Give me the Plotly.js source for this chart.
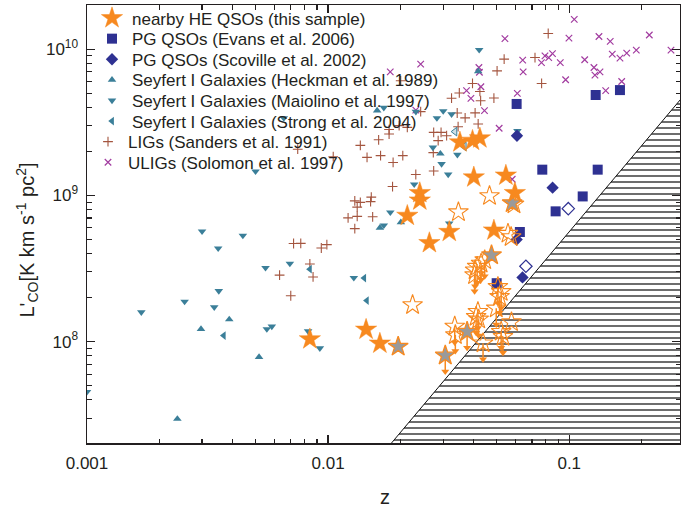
<!DOCTYPE html>
<html><head><meta charset="utf-8">
<script src="https://cdn.plot.ly/plotly-3.0.1.min.js"></script>
<style>html,body{margin:0;padding:0;background:#fff}#chart{width:681px;height:508px}</style>
</head><body><div id="chart"></div>
<script>
// ---------- data ----------
// nearby HE QSOs (this sample): detections (filled orange stars)
const heZ = [0.0352,0.0397,0.0426,0.0402,0.0546,0.0595,0.0240,0.0240,0.0213,0.0318,0.0487,0.0263,0.0084,0.01437,0.01639];
const heL = [2.31e9,2.37e9,2.46e9,1.33e9,1.37e9,1.04e9,1.04e9,9.25e8,7.27e8,5.64e8,5.77e8,4.73e8,1.04e8,1.21e8,9.72e7];
// HE QSOs shown with grey filled stars
const heGreyZ = [0.0580,0.0476,0.01952,0.0377,0.0306];
const heGreyL = [8.86e8,3.90e8,9.25e7,1.17e8,8.05e7];
const heGreyLimit = [false,false,false,true,true];
// HE QSOs open stars (no arrow)
const heOpenZ = [0.0467,0.0347,0.0557,0.0574,0.0224,0.0576,0.0590];
const heOpenL = [9.92e8,7.69e8,5.48e8,5.20e8,1.78e8,1.36e8,8.68e8];
// HE QSOs upper limits (open stars with arrows)
const heUlZ = [0.0446,0.0431,0.0415,0.0407,0.0405,0.0506,0.0522,0.0514,0.0498,0.0418,0.0411,0.0421,0.0522,0.0531,0.0335,0.0337,0.0439];
const heUlL = [3.61e8,3.42e8,3.26e8,3.08e8,2.85e8,2.37e8,2.19e8,2.03e8,1.69e8,1.60e8,1.48e8,1.42e8,1.17e8,1.08e8,1.27e8,1.11e8,9.75e7];

// PG QSOs (Evans et al. 2006)
const evansZ = [0.0605,0.1287,0.1623,0.0773,0.1312,0.1137,0.0878,0.0624,0.0500];
const evansL = [4.22e9,4.86e9,5.25e9,1.50e9,1.50e9,9.84e8,7.78e8,5.62e8,2.51e8];
// PG QSOs (Scoville et al. 2002)
const scovZ = [0.0607,0.0853,0.0605,0.0640];
const scovL = [2.56e9,1.13e9,4.99e8,2.75e8];
const scovOpenZ = [0.0991,0.0661];
const scovOpenL = [8.12e8,3.28e8];

// Seyfert I (Heckman et al. 1989)
const heckZ = [0.01597,0.01639,0.02003,0.02921,0.04193,0.00297,0.00389,0.00517,0.00237];
const heckL = [3.80e9,6.00e8,6.55e8,1.93e9,7.06e9,1.22e8,1.42e8,7.84e7,2.96e7];
// Seyfert I (Maiolino et al. 1997)
const maioZ = [0.0050,0.0030,0.00443,0.0035,0.0055,0.00352,0.00254,0.00168,0.00337,0.00557,0.00584,0.0010,0.00826,0.00924,0.00694,0.00655,
               0.01811,0.01702,0.01278,0.03148,0.02275,0.03178,0.04232,0.03001,0.02825,0.03251,0.0272,0.02954,0.03436,0.06097,0.01702,0.02312];
const maioL = [1.46e9,5.68e8,5.31e8,4.35e8,3.20e8,2.22e8,1.88e8,1.59e8,1.72e8,1.22e8,1.27e8,4.54e7,1.18e8,9.02e7,3.42e8,3.38e9,
               7.66e8,6.25e8,2.73e8,1.39e9,1.19e9,6.44e8,9.89e9,3.77e9,3.38e9,3.59e9,2.13e9,1.64e9,1.90e9,2.76e9,3.98e9,3.74e9];
// Seyfert I (Strong et al. 2004)
const strongZ = [0.00369,0.0084,0.01411,0.01447];
const strongL = [1.10e8,3.13e8,2.72e8,1.91e8];
const strongOpenZ = [0.03356,0.03667];
const strongOpenL = [2.73e9,2.16e9];

// LIGs (Sanders et al. 1991)
const ligZ = [0.0818,0.0537,0.0721,0.0502,0.0768,0.0397,0.0426,0.0487,0.0350,0.0325,0.0429,0.0407,0.0370,0.0200,0.0242,0.0179,0.0179,0.0162,0.0136,
              0.0274,0.0294,0.0310,0.0346,0.0204,0.0165,0.0186,0.0145,0.0273,0.0274,0.0231,0.0185,0.0129,0.0136,0.0151,0.0150,0.0132,0.0121,0.0132,
              0.0153,0.0129,0.00719,0.0077,0.00937,0.00988,0.0084,0.00629,0.00866,0.0070,0.00748,0.0105,0.0197,0.0213,0.0286,0.0419,0.0343];
const ligL = [1.28e10,8.55e9,8.76e9,7.11e9,5.83e9,5.83e9,5.14e9,4.63e9,5.02e9,4.62e9,4.44e9,3.67e9,3.39e9,6.08e9,3.74e9,2.82e9,2.63e9,2.40e9,2.20e9,
              2.70e9,2.70e9,2.56e9,2.95e9,1.87e9,1.87e9,1.68e9,1.82e9,1.96e9,1.47e9,1.39e9,1.15e9,9.17e8,8.96e8,9.74e8,9.07e8,8.32e8,7.02e8,7.19e8,
              7.14e8,5.93e8,4.69e8,4.70e8,4.37e8,4.61e8,3.40e8,2.85e8,2.77e8,2.06e8,2.07e9,1.84e9,3.00e9,2.92e9,2.37e9,3.08e9,3.66e9];

// ULIGs (Solomon et al. 1997)
const uligZ = [0.1049,0.0997,0.1328,0.1479,0.2148,0.2642,0.1508,0.1623,0.1731,0.1897,0.1159,0.0918,0.1266,0.1341,0.1278,0.0966,0.1650,0.1416,
               0.0541,0.0641,0.0644,0.0793,0.0767,0.0822,0.0852,0.0422,0.0424,0.0242,0.0375,0.0430,0.0391,0.0609,0.0445,0.0512,0.0181,0.0231,0.0580];
const uligL = [1.60e10,1.19e10,1.22e10,1.13e10,1.25e10,9.84e9,9.25e9,8.69e9,9.39e9,9.84e9,8.46e9,8.10e9,7.49e9,7.00e9,6.65e9,6.18e9,6.01e9,5.20e9,
               1.18e10,8.41e9,7.00e9,9.00e9,8.10e9,8.76e9,9.33e9,7.49e9,6.95e9,7.90e9,5.20e9,5.53e9,4.61e9,4.98e9,3.80e9,2.88e9,7.00e9,3.83e9,1.29e9];

// sensitivity limit (hatched region): L'CO = limitL0 * (z/limitZ0)^limitSlope
const limitZ0 = 0.01833, limitL0 = 2.03e7, limitSlope = 1.96;

// tick labels
const xTickVals = [0.001, 0.01, 0.1];
const xTickText = ['0.001', '0.01', '0.1'];
const yTickVals = [1e8, 1e9, 1e10];
const yTickText = ['10<sup>8</sup>', '10<sup>9</sup>', '10<sup>10</sup>'];

// ---------- styles ----------
const ORANGE = '#f7891f', NAVY = '#2e3192', TEAL = '#3b7f99', BROWN = '#a4553f', PURPLE = '#a23ca0', GREY = '#9a9a9a', INK = '#231f20';
const FONT = 'Liberation Sans, Arial, Helvetica, sans-serif';
const arrowFactor = Math.pow(10, -0.11);

function minorTicks(lo, hi) {
  const out = [];
  for (let e = lo; e <= hi; e++) for (let d = 2; d <= 9; d++) out.push(d * Math.pow(10, e));
  return out;
}

// hatched region polygon from the limit relation
const hz = [], hl = [];
const zEnd = 0.4;
const zStart = limitZ0 * 0.8;
for (let i = 0; i <= 40; i++) {
  const z = zStart * Math.pow(zEnd / zStart, i / 40);
  hz.push(z); hl.push(limitL0 * Math.pow(z / limitZ0, limitSlope));
}
hz.push(zEnd, zStart, zStart); hl.push(1e7, 1e7, hl[0]);

// upper limit arrows
const arrZ = heUlZ.concat(heGreyZ.filter((_, i) => heGreyLimit[i]));
const arrL = heUlL.concat(heGreyL.filter((_, i) => heGreyLimit[i]));

const traces = [
  { x: hz, y: hl, mode: 'lines', fill: 'toself', fillcolor: 'white',
    fillpattern: { shape: '-', size: 6, solidity: 0.22, fgcolor: '#222', bgcolor: 'white', fillmode: 'replace' },
    line: { color: '#111', width: 1 }, showlegend: false, hoverinfo: 'skip' },
  { x: ligZ, y: ligL, mode: 'markers', name: 'LIGs (Sanders et al. 1991)', legend: 'legend7',
    marker: { symbol: 'cross-thin', size: 7, line: { color: BROWN, width: 1.1 }, color: BROWN } },
  { x: uligZ, y: uligL, mode: 'markers', name: 'ULIGs (Solomon et al. 1997)', legend: 'legend8',
    marker: { symbol: 'x-thin', size: 6.5, line: { color: PURPLE, width: 1.2 }, color: PURPLE } },
  { x: heckZ, y: heckL, mode: 'markers', name: 'Seyfert I Galaxies (Heckman et al. 1989)', legend: 'legend4',
    marker: { symbol: 'triangle-up', size: 7.5, color: TEAL } },
  { x: maioZ, y: maioL, mode: 'markers', name: 'Seyfert I Galaxies (Maiolino et al. 1997)', legend: 'legend5',
    marker: { symbol: 'triangle-down', size: 7.5, color: TEAL } },
  { x: strongZ, y: strongL, mode: 'markers', name: 'Seyfert I Galaxies (Strong et al. 2004)', legend: 'legend6',
    marker: { symbol: 'triangle-left', size: 7.5, color: TEAL } },
  { x: strongOpenZ, y: strongOpenL, mode: 'markers', showlegend: false,
    marker: { symbol: 'triangle-left', size: 7.5, color: '#cfe0e8', line: { color: TEAL, width: 1 } } },
  { x: evansZ, y: evansL, mode: 'markers', name: 'PG QSOs (Evans et al. 2006)', legend: 'legend2',
    marker: { symbol: 'square', size: 10, color: NAVY } },
  { x: scovZ, y: scovL, mode: 'markers', name: 'PG QSOs (Scoville et al. 2002)', legend: 'legend3',
    marker: { symbol: 'diamond', size: 9.5, color: NAVY } },
  { x: scovOpenZ, y: scovOpenL, mode: 'markers', showlegend: false,
    marker: { symbol: 'diamond-open', size: 9.5, color: NAVY, line: { width: 1.2 } } },
  { x: arrZ, y: arrL, mode: 'markers', showlegend: false, hoverinfo: 'skip',
    marker: { size: 1, color: 'rgba(0,0,0,0)' },
    error_y: { type: 'data', symmetric: false, array: arrL.map(() => 0), arrayminus: arrL.map(v => v * (1 - arrowFactor)),
               color: ORANGE, thickness: 1.5, width: 0 } },
  { x: arrZ, y: arrL.map(v => v * arrowFactor), mode: 'markers', showlegend: false, hoverinfo: 'skip',
    marker: { symbol: 'triangle-down', size: 7, color: ORANGE } },
  { x: heOpenZ, y: heOpenL, mode: 'markers', showlegend: false,
    marker: { symbol: 'star-open', size: 15, color: ORANGE, line: { width: 1.1 } } },
  { x: heUlZ, y: heUlL, mode: 'markers', showlegend: false,
    marker: { symbol: 'star-open', size: 15, color: ORANGE, line: { width: 1.1 } } },
  { x: heGreyZ, y: heGreyL, mode: 'markers', showlegend: false,
    marker: { symbol: 'star', size: 15, color: GREY, line: { color: ORANGE, width: 1.3 } } },
  { x: heZ, y: heL, mode: 'markers', name: 'nearby HE QSOs (this sample)', legend: 'legend',
    marker: { symbol: 'star', size: 16, color: ORANGE, line: { color: ORANGE, width: 0.5 } } }
];

const axisCommon = {
  type: 'log', showgrid: false, zeroline: false, showline: true, linewidth: 1.5, linecolor: INK,
  mirror: 'ticks', ticks: 'inside', ticklen: 8, tickwidth: 1.3, tickcolor: INK,
  tickfont: { family: FONT, size: 17, color: INK },
  ticklabelstandoff: 4
};

// one legend per entry so the row pitch matches the reference (rows ~20.6 px apart)
const plotTop = 4, plotH = 439, plotL = 87, plotW = 593;
const rowY0 = 18.5, rowPitch = 20.6;
function legendAt(row, textLeftPx) {
  return {
    x: (textLeftPx - 40 - plotL) / plotW, xanchor: 'left',
    y: 1 - (rowY0 + row * rowPitch - plotTop) / plotH, yanchor: 'middle',
    bgcolor: 'rgba(0,0,0,0)', borderwidth: 0,
    font: { family: FONT, size: 17, color: INK }, itemwidth: 30
  };
}

const layout = {
  width: 681, height: 508,
  margin: { l: 87, r: 1, t: 4, b: 65 },
  paper_bgcolor: 'white', plot_bgcolor: 'white',
  font: { family: FONT, color: INK },
  showlegend: true,
  legend: legendAt(0, 132),
  legend2: legendAt(1, 132),
  legend3: legendAt(2, 132),
  legend4: legendAt(3, 132),
  legend5: legendAt(4, 132),
  legend6: legendAt(5, 132),
  legend7: legendAt(6, 128),
  legend8: legendAt(7, 128),
  xaxis: Object.assign({}, axisCommon, {
    range: [-3, -0.5407], tickvals: xTickVals, ticktext: xTickText,
    minor: { tickvals: minorTicks(-3, -1), ticks: 'inside', ticklen: 4.5, tickwidth: 1.2, tickcolor: INK, showgrid: false }
  }),
  yaxis: Object.assign({}, axisCommon, {
    range: [7.307, 10.302], tickvals: yTickVals, ticktext: yTickText,
    minor: { tickvals: minorTicks(7, 10), ticks: 'inside', ticklen: 4.5, tickwidth: 1.2, tickcolor: INK, showgrid: false }
  }),
  annotations: [
    { text: 'z', xref: 'paper', yref: 'paper', x: 0.5025, y: -0.123, xanchor: 'center', yanchor: 'middle',
      showarrow: false, font: { family: FONT, size: 20, color: INK } },
    { text: "L'<sub>CO</sub>[K km s<sup>-1</sup> pc<sup>2</sup>]", xref: 'paper', yref: 'paper',
      x: -0.101, y: 0.4624, xanchor: 'center', yanchor: 'middle', textangle: -90,
      showarrow: false, font: { family: FONT, size: 20, color: INK } }
  ]
};

Plotly.newPlot('chart', traces, layout, { displayModeBar: false, staticPlot: true });
</script></body></html>
